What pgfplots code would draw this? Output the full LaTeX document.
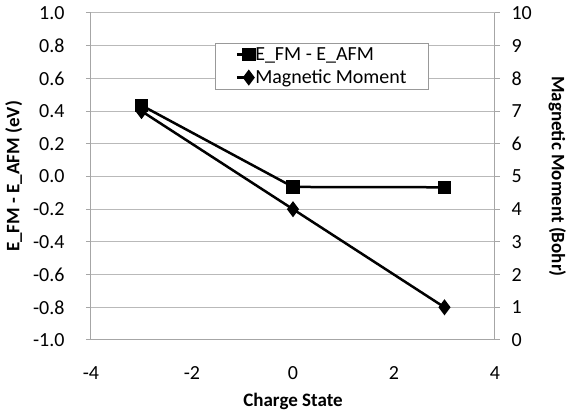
\documentclass[border=0pt]{standalone}
\usepackage{pgfplots}
\pgfplotsset{compat=1.18}
\usepackage{fontspec}
\setmainfont{Carlito}
\begin{document}
\begin{tikzpicture}
\path[use as bounding box] (0pt,0pt) rectangle (568pt,415pt);
\begin{axis}[
  at={(91pt,75pt)}, anchor=south west,
  scale only axis, width=404pt, height=327pt,
  xmin=-4, xmax=4, ymin=-1, ymax=1,
  xtick={-4,-2,0,2,4}, ytick={-1,-0.8,...,1.01},
  axis x line*=bottom, axis y line*=left,
  axis line style={gray!70, line width=1pt},
  x tick style={draw=none},
  y tick style={gray!70, line width=1pt},
  tick align=outside, major tick length=5pt,
  ymajorgrids, grid style={gray!55, line width=1pt},
  /pgf/number format/assume math mode=true,
  y tick label style={xshift=-18pt, /pgf/number format/.cd, fixed, fixed zerofill, precision=1},
  ticklabel style={font=\fontsize{20}{22}\selectfont},
  xticklabel style={yshift=-18pt},
  ylabel={\textbf{E\_FM - E\_AFM (eV)}},
  ylabel style={font=\fontsize{19}{21}\selectfont, yshift=4pt},
  xlabel={\textbf{Charge State}},
  xlabel style={font=\fontsize{19}{21}\selectfont, yshift=-7pt},
  legend style={at={(0.307,0.908)}, anchor=north west, draw=gray!80, line width=1pt,
    font=\fontsize{20}{22}\selectfont, inner xsep=20pt, inner ysep=2pt,
    row sep=4pt},
  legend cell align=left,
  legend image code/.code={\draw[#1, line width=2.5pt] (0pt,0pt) -- (14pt,0pt); \draw[#1, mark repeat=1] plot coordinates {(12pt,0pt)};},
]
\addplot[black, line width=2.5pt, mark=square*, mark size=5.5pt, mark options={solid}]
  coordinates {(-3,0.435) (0,-0.064) (3,-0.066)};
\addlegendentry{\hspace{-1pt}E\_FM - E\_AFM}
\addlegendimage{black, line width=2.5pt, mark=diamond*, mark size=6pt}
\addlegendentry{\hspace{-1pt}Magnetic Moment\hspace{14pt}}
\end{axis}
\begin{axis}[
  at={(91pt,75pt)}, anchor=south west,
  scale only axis, width=404pt, height=327pt,
  xmin=-4, xmax=4, ymin=0, ymax=10,
  ytick={0,1,...,10},
  axis x line=none, axis y line*=right,
  axis line style={gray!70, line width=1pt},
  y tick style={gray!70, line width=1pt},
  tick align=outside, major tick length=5pt,
  /pgf/number format/assume math mode=true,
  ticklabel style={font=\fontsize{20}{22}\selectfont},
  yticklabel style={xshift=8pt},
  ylabel={\textbf{Magnetic Moment (Bohr)}},
  ylabel style={font=\fontsize{19}{21}\selectfont, rotate=180, yshift=10pt},
]
\addplot[black, line width=2.5pt, mark=diamond*, mark size=6pt]
  coordinates {(-3,7) (0,4) (3,1)};
\end{axis}
\end{tikzpicture}
\end{document}
